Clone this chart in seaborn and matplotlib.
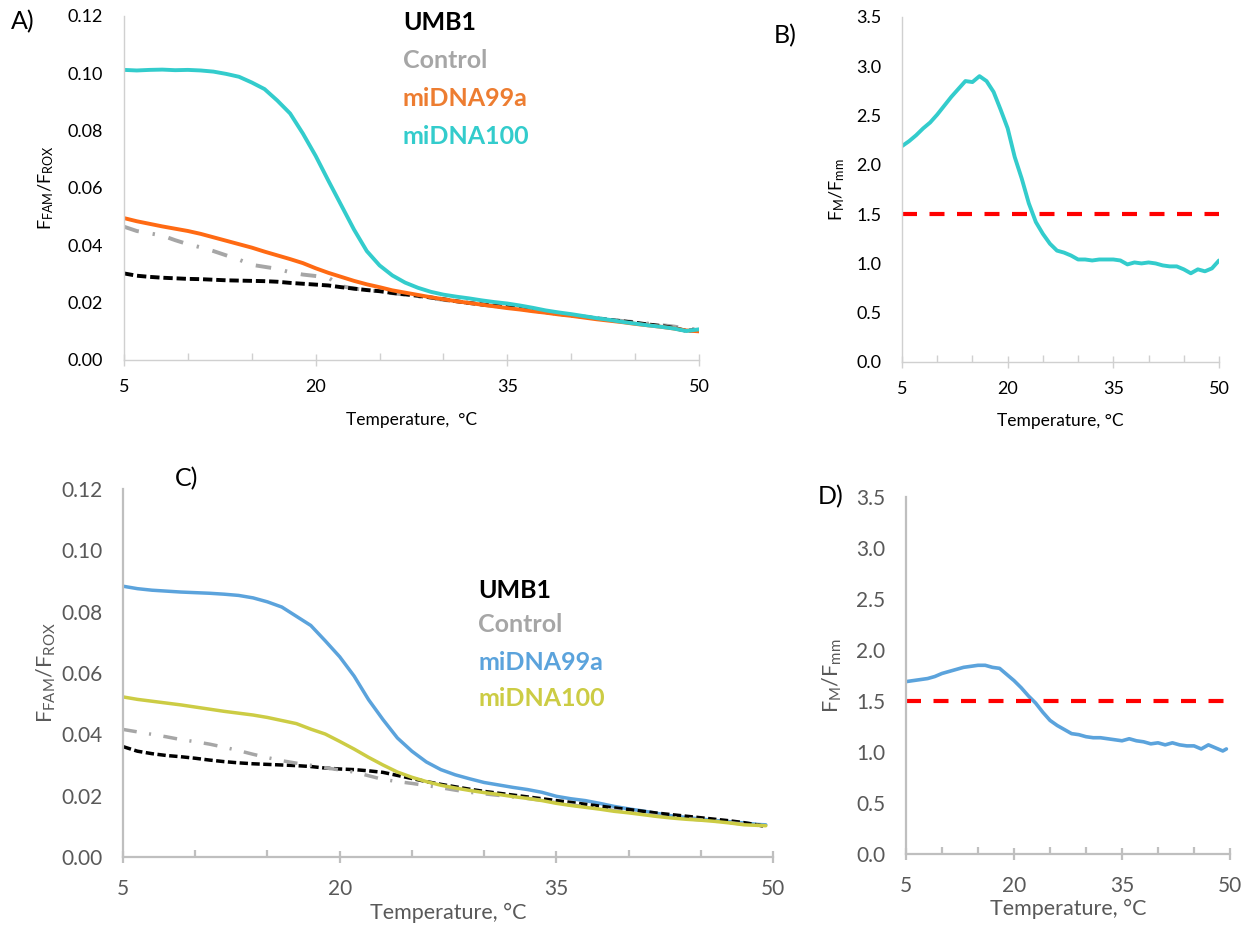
import matplotlib
matplotlib.use("Agg")
import matplotlib.pyplot as plt
import seaborn as sns
import numpy as np
import pandas as pd
from matplotlib.ticker import MultipleLocator, FormatStrFormatter

# ---------------- data ----------------
temps_ab = [5, 6, 7, 8, 9, 10, 11, 12, 13, 14, 15, 16, 17, 18, 19, 20, 21, 22, 23, 24,
            25, 26, 27, 28, 29, 30, 31, 32, 33, 34, 35, 36, 37, 38, 39, 40, 41, 42, 43, 44,
            45, 46, 47, 48, 49, 50]
temps_cd = [5, 6, 7, 8, 9, 10, 11, 12, 13, 14, 15, 16, 17, 18, 19, 20, 21, 22, 23, 24,
            25, 26, 27, 28, 29, 30, 31, 32, 33, 34, 35, 36, 37, 38, 39, 40, 41, 42, 43, 44,
            45, 46, 47, 48, 49, 49.5]

# Panel A  (F_FAM / F_ROX)
a_umb1 = [0.0302, 0.0294, 0.0290, 0.0287, 0.0285, 0.0283, 0.0282, 0.0280, 0.0278, 0.0277,
          0.0276, 0.0275, 0.0273, 0.0269, 0.0266, 0.0263, 0.0260, 0.0254, 0.0249, 0.0244,
          0.0240, 0.0234, 0.0229, 0.0224, 0.0218, 0.0212, 0.0205, 0.0199, 0.0194, 0.0189,
          0.0184, 0.0179, 0.0173, 0.0167, 0.0161, 0.0156, 0.0151, 0.0145, 0.0140, 0.0135,
          0.0130, 0.0124, 0.0119, 0.0112, 0.0102, 0.0105]
a_control = [0.0465, 0.0450, 0.0442, 0.0434, 0.0418, 0.0404, 0.0393, 0.0380, 0.0365, 0.0350,
             0.0332, 0.0325, 0.0318, 0.0306, 0.0298, 0.0293, 0.0287, 0.0258, 0.0249, 0.0244,
             0.0239, 0.0233, 0.0228, 0.0222, 0.0216, 0.0210, 0.0204, 0.0198, 0.0193, 0.0188,
             0.0183, 0.0178, 0.0172, 0.0167, 0.0161, 0.0156, 0.0151, 0.0146, 0.0141, 0.0136,
             0.0132, 0.0127, 0.0122, 0.0117, 0.0110, 0.0106]
a_mi99a = [0.0495, 0.0484, 0.0475, 0.0466, 0.0458, 0.0450, 0.0440, 0.0428, 0.0416, 0.0404,
           0.0392, 0.0378, 0.0365, 0.0352, 0.0338, 0.0320, 0.0304, 0.0290, 0.0276, 0.0264,
           0.0254, 0.0243, 0.0235, 0.0227, 0.0219, 0.0212, 0.0205, 0.0199, 0.0193, 0.0187,
           0.0181, 0.0176, 0.0170, 0.0165, 0.0159, 0.0154, 0.0148, 0.0142, 0.0137, 0.0132,
           0.0126, 0.0121, 0.0116, 0.0110, 0.0103, 0.0100]
a_mi100 = [0.1012, 0.1010, 0.1012, 0.1013, 0.1011, 0.1012, 0.1010, 0.1006, 0.0998, 0.0988,
           0.0968, 0.0945, 0.0905, 0.0860, 0.0790, 0.0712, 0.0625, 0.0540, 0.0455, 0.0380,
           0.0330, 0.0295, 0.0270, 0.0252, 0.0238, 0.0228, 0.0221, 0.0215, 0.0208, 0.0202,
           0.0197, 0.0190, 0.0182, 0.0173, 0.0166, 0.0160, 0.0153, 0.0146, 0.0140, 0.0133,
           0.0127, 0.0121, 0.0116, 0.0110, 0.0101, 0.0107]

# Panel B  (F_M / F_mm)
b_ratio = [2.19, 2.24, 2.30, 2.37, 2.43, 2.51, 2.60, 2.69, 2.77, 2.85,
           2.84, 2.90, 2.85, 2.74, 2.56, 2.37, 2.08, 1.86, 1.61, 1.42,
           1.30, 1.20, 1.13, 1.11, 1.08, 1.04, 1.04, 1.03, 1.04, 1.04,
           1.04, 1.03, 0.99, 1.01, 1.00, 1.01, 1.00, 0.98, 0.97, 0.97,
           0.94, 0.90, 0.94, 0.92, 0.95, 1.03]

# Panel C  (F_FAM / F_ROX)
c_umb1 = [0.0360, 0.0345, 0.0337, 0.0331, 0.0327, 0.0322, 0.0316, 0.0311, 0.0307, 0.0304,
          0.0302, 0.0300, 0.0298, 0.0295, 0.0290, 0.0287, 0.0285, 0.0281, 0.0276, 0.0266,
          0.0256, 0.0246, 0.0237, 0.0229, 0.0221, 0.0214, 0.0208, 0.0202, 0.0196, 0.0190,
          0.0184, 0.0178, 0.0172, 0.0166, 0.0160, 0.0155, 0.0149, 0.0143, 0.0138, 0.0133,
          0.0128, 0.0123, 0.0118, 0.0112, 0.0104, 0.0099]
c_control = [0.0416, 0.0408, 0.0400, 0.0392, 0.0383, 0.0376, 0.0368, 0.0358, 0.0347, 0.0335,
             0.0324, 0.0314, 0.0306, 0.0299, 0.0291, 0.0284, 0.0277, 0.0265, 0.0253, 0.0246,
             0.0240, 0.0233, 0.0226, 0.0218, 0.0211, 0.0206, 0.0201, 0.0196, 0.0191, 0.0185,
             0.0177, 0.0170, 0.0164, 0.0158, 0.0152, 0.0146, 0.0140, 0.0134, 0.0129, 0.0125,
             0.0121, 0.0117, 0.0112, 0.0107, 0.0103, 0.0102]
c_mi99a = [0.0883, 0.0875, 0.0870, 0.0867, 0.0864, 0.0862, 0.0860, 0.0857, 0.0853, 0.0845,
           0.0832, 0.0815, 0.0785, 0.0755, 0.0705, 0.0653, 0.0590, 0.0513, 0.0448, 0.0388,
           0.0345, 0.0310, 0.0285, 0.0268, 0.0255, 0.0243, 0.0235, 0.0227, 0.0220, 0.0211,
           0.0198, 0.0190, 0.0184, 0.0175, 0.0165, 0.0157, 0.0150, 0.0142, 0.0134, 0.0129,
           0.0124, 0.0119, 0.0115, 0.0111, 0.0106, 0.0105]
c_mi100 = [0.0522, 0.0514, 0.0508, 0.0502, 0.0496, 0.0489, 0.0482, 0.0475, 0.0469, 0.0463,
           0.0455, 0.0445, 0.0435, 0.0417, 0.0401, 0.0377, 0.0352, 0.0325, 0.0300, 0.0277,
           0.0260, 0.0246, 0.0234, 0.0225, 0.0217, 0.0210, 0.0204, 0.0197, 0.0191, 0.0184,
           0.0175, 0.0168, 0.0162, 0.0156, 0.0149, 0.0144, 0.0138, 0.0132, 0.0127, 0.0123,
           0.0120, 0.0116, 0.0111, 0.0105, 0.0103, 0.0102]

# Panel D  (F_M / F_mm)
d_ratio = [1.69, 1.70, 1.71, 1.72, 1.74, 1.77, 1.79, 1.81, 1.83, 1.84,
           1.85, 1.85, 1.83, 1.82, 1.76, 1.70, 1.63, 1.55, 1.48, 1.39,
           1.31, 1.26, 1.22, 1.18, 1.17, 1.15, 1.14, 1.14, 1.13, 1.12,
           1.11, 1.13, 1.11, 1.10, 1.08, 1.09, 1.07, 1.09, 1.07, 1.06,
           1.06, 1.03, 1.07, 1.04, 1.01, 1.03]

threshold_b_x = [5, 50]
threshold_d_x = [5, 49.5]
threshold_y = [1.5, 1.5]

legend_labels = ["UMB1", "Control", "miDNA99a", "miDNA100"]
x_major_ticks = [5, 20, 35, 50]

# ---------------- style ----------------
sns.set_theme(style="white")
plt.rcParams["font.family"] = ["Lato", "DejaVu Sans"]
plt.rcParams["mathtext.fontset"] = "custom"
plt.rcParams["mathtext.rm"] = "Lato"
plt.rcParams["mathtext.it"] = "Lato:italic"
plt.rcParams["mathtext.bf"] = "Lato:bold"

W, H = 1247, 930
fig = plt.figure(figsize=(W / 100, H / 100), dpi=100)
fig.patch.set_facecolor("white")


def px_axes(l, t, r, b):
    return fig.add_axes([l / W, 1 - b / H, (r - l) / W, (b - t) / H])


def ftext(x, y, s, **kw):
    fig.text(x / W, 1 - y / H, s, **kw)


axA = px_axes(124, 16, 699, 360)
axB = px_axes(902, 17, 1219, 362)
axC = px_axes(123, 489, 773, 857)
axD = px_axes(906, 497, 1230, 854)

BLACK = "#000000"
GRAY = "#A6A6A6"
ORANGE_LINE = "#FF6A13"
ORANGE_TXT = "#ED7D31"
CYAN = "#33CCCC"
BLUE = "#5BA3DC"
YELLOW = "#CCCC44"
RED = "#FF0000"
DARKTXT = "#595959"

dash_umb1 = (0, (2.4, 1.0))
dash_ctrl = (0, (4.0, 3.6, 0.6, 3.6))
dash_red = (0, (3.6, 3.0))


def line(ax, x, y, color, lw, ls="-"):
    sns.lineplot(x=x, y=y, ax=ax, color=color, linewidth=lw, linestyle=ls,
                 estimator=None, sort=False, legend=False)


# Panel A
line(axA, temps_ab, a_control, GRAY, 2.8, dash_ctrl)
line(axA, temps_ab, a_umb1, BLACK, 2.8, dash_umb1)
line(axA, temps_ab, a_mi99a, ORANGE_LINE, 2.8)
line(axA, temps_ab, a_mi100, CYAN, 2.8)

# Panel B
line(axB, temps_ab, b_ratio, CYAN, 2.8)
line(axB, threshold_b_x, threshold_y, RED, 3.0, dash_red)

# Panel C
line(axC, temps_cd, c_mi99a, BLUE, 2.5)
line(axC, temps_cd, c_umb1, BLACK, 2.5, dash_umb1)
line(axC, temps_cd, c_control, GRAY, 2.5, dash_ctrl)
line(axC, temps_cd, c_mi100, YELLOW, 2.5)

# Panel D
line(axD, temps_cd, d_ratio, BLUE, 2.6)
line(axD, threshold_d_x, threshold_y, RED, 3.0, dash_red)


def style_axes(ax, ymax, ystep, yfmt, txtcolor, spine_col, spine_w, fs, xpad, ypad):
    sns.despine(ax=ax)
    ax.set_xlim(5, 50)
    ax.set_ylim(0, ymax)
    ax.xaxis.set_major_locator(plt.FixedLocator(x_major_ticks))
    ax.xaxis.set_minor_locator(MultipleLocator(5))
    ax.yaxis.set_major_locator(MultipleLocator(ystep))
    ax.yaxis.set_major_formatter(FormatStrFormatter(yfmt))
    for s in ("left", "bottom"):
        ax.spines[s].set_color(spine_col)
        ax.spines[s].set_linewidth(spine_w)
    ax.tick_params(axis="y", which="both", length=0, pad=ypad, labelsize=fs,
                   labelcolor=txtcolor)
    ax.tick_params(axis="x", which="major", direction="inout", length=9,
                   width=spine_w, color=spine_col, pad=xpad, labelsize=fs,
                   labelcolor=txtcolor, bottom=True)
    ax.tick_params(axis="x", which="minor", direction="in", length=5,
                   width=spine_w, color=spine_col, bottom=True)
    ax.set_facecolor("white")
    ax.grid(False)


style_axes(axA, 0.12, 0.02, "%.2f", BLACK, "#D0D0D0", 1.0, 13, 9, 15)
style_axes(axB, 3.5, 0.5, "%.1f", BLACK, "#D0D0D0", 1.0, 13, 9, 15)
style_axes(axC, 0.12, 0.02, "%.2f", DARKTXT, "#BFBFBF", 1.6, 15, 11, 15)
style_axes(axD, 3.5, 0.5, "%.1f", DARKTXT, "#BFBFBF", 1.6, 15, 11, 15)

# axis labels
axA.set_xlabel("Temperature,  °C", fontsize=12.5, color=BLACK)
axA.xaxis.set_label_coords(0.5, -0.15)
axB.set_xlabel("Temperature, °C", fontsize=12.5, color=BLACK)
axB.xaxis.set_label_coords(0.5, -0.148)
axC.set_xlabel("Temperature, °C", fontsize=15.5, color=DARKTXT)
axC.xaxis.set_label_coords(0.5, -0.125)
axD.set_xlabel("Temperature, °C", fontsize=15.5, color=DARKTXT)
axD.xaxis.set_label_coords(0.5, -0.125)

axA.set_ylabel(r"$\mathregular{F_{FAM}/F_{ROX}}$", fontsize=13, color=BLACK)
axA.yaxis.set_label_coords(-0.118, 0.5)
axB.set_ylabel(r"$\mathregular{F_{M}/F_{mm}}$", fontsize=13, color=BLACK)
axB.yaxis.set_label_coords(-0.175, 0.5)
axC.set_ylabel(r"$\mathregular{F_{FAM}/F_{ROX}}$", fontsize=15.5, color=DARKTXT)
axC.yaxis.set_label_coords(-0.10, 0.5)
axD.set_ylabel(r"$\mathregular{F_{M}/F_{mm}}$", fontsize=15.5, color=DARKTXT)
axD.yaxis.set_label_coords(-0.19, 0.5)

# panel letters
ftext(11, 22, "A)", fontsize=18, va="center", ha="left", color=BLACK)
ftext(774, 36, "B)", fontsize=18, va="center", ha="left", color=BLACK)
ftext(175, 479, "C)", fontsize=18, va="center", ha="left", color=BLACK)
ftext(818, 497, "D)", fontsize=18, va="center", ha="left", color=BLACK)

# in-plot legends (coloured text)
colors_a = [BLACK, GRAY, ORANGE_TXT, CYAN]
colors_c = [BLACK, GRAY, BLUE, YELLOW]
ys_a = [23, 60, 98, 136]
ys_c = [590, 625, 662, 698]
for lab, col, yy in zip(legend_labels, colors_a, ys_a):
    ftext(403, yy, lab, fontsize=18, fontweight="bold", color=col, va="center", ha="left")
for lab, col, yy in zip(legend_labels, colors_c, ys_c):
    ftext(478, yy, lab, fontsize=18, fontweight="bold", color=col, va="center", ha="left")

fig.savefig("out.png", dpi=100, facecolor="white")
